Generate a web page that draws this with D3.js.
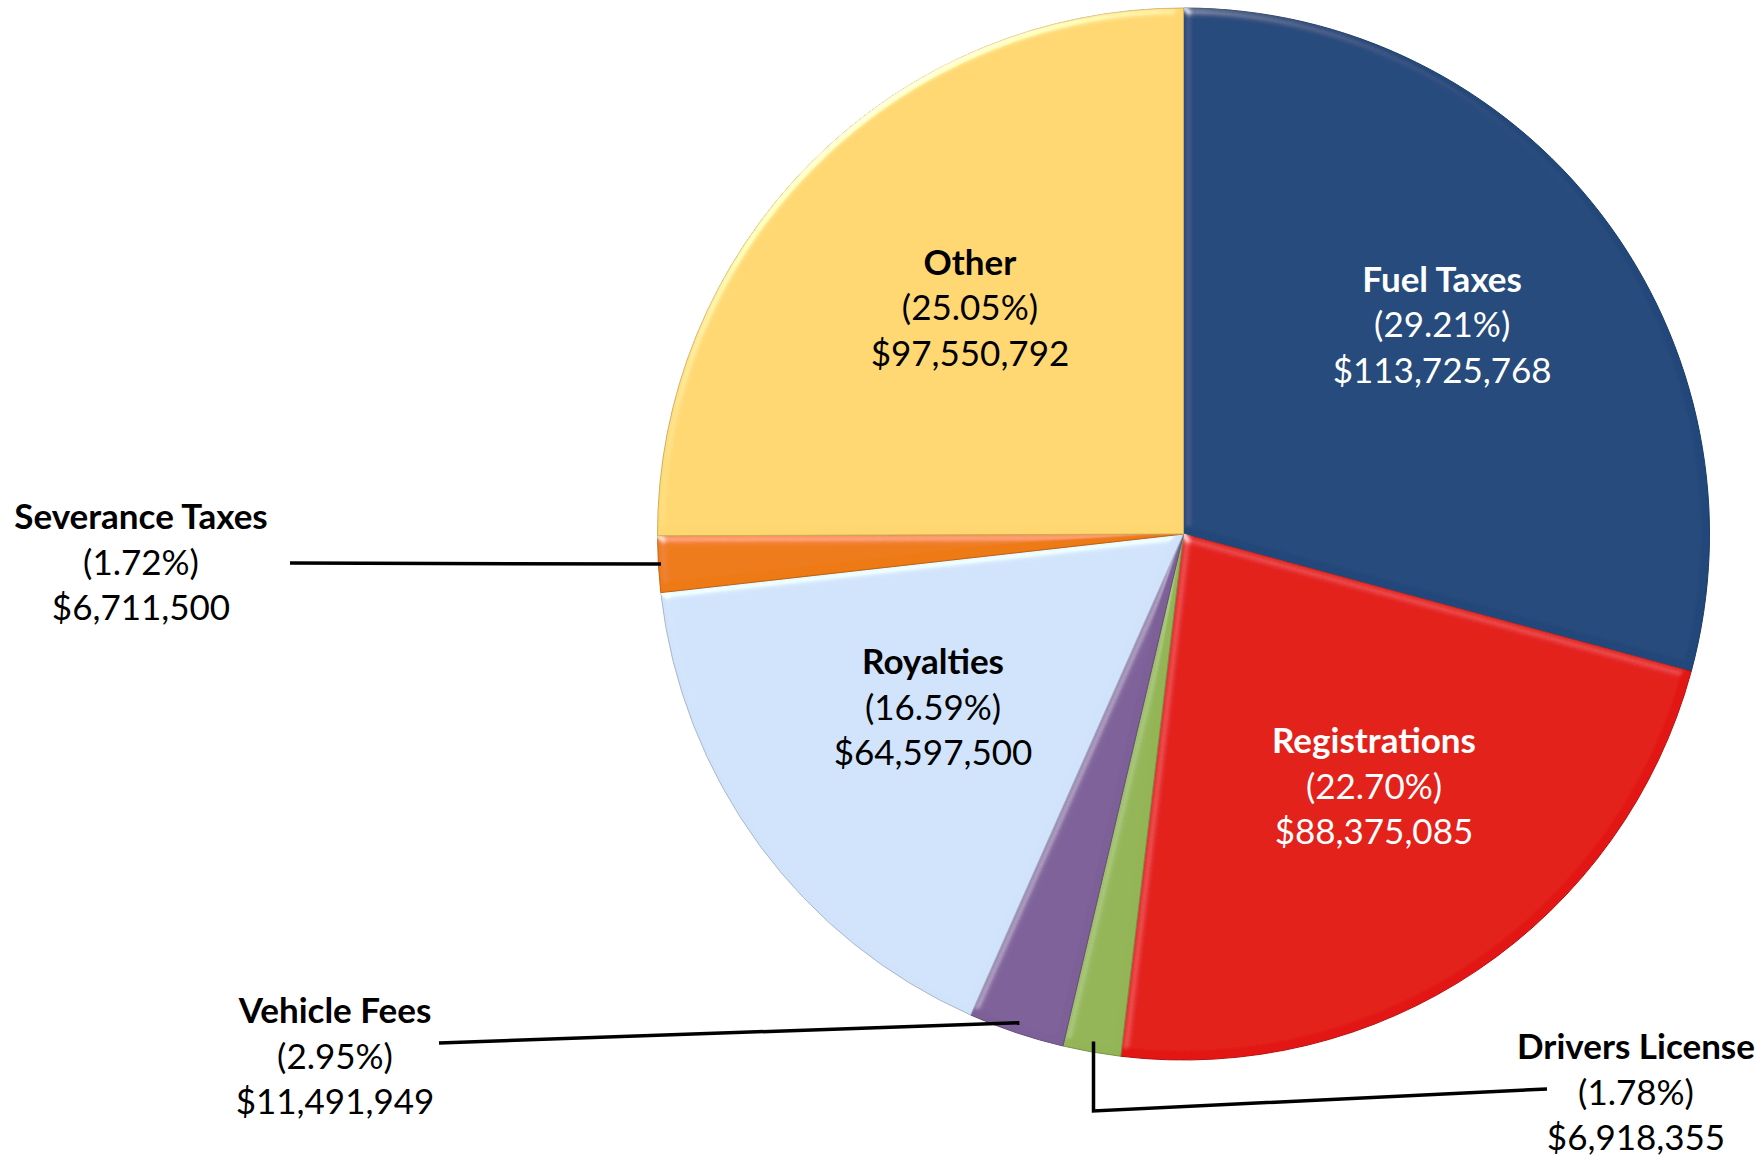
<!DOCTYPE html>
<html lang="en">
<head>
    <meta charset="UTF-8" />
    <title>Revenue Sources</title>
    <script src="https://cdnjs.cloudflare.com/ajax/libs/d3/7.8.5/d3.min.js"></script>
    <style>
        body {
            margin: 0;
            padding: 0;
            background: #ffffff;
        }

        svg text {
            font-family: Lato, 'Open Sans', sans-serif;
            font-size: 35px;
            text-anchor: middle;
        }

        .name {
            font-weight: bold;
        }

        .leader {
            fill: none;
            stroke: #000;
            stroke-width: 3.5;
        }
    </style>
</head>
<body>
    <svg id="chart" width="1764" height="1158"></svg>

    <script>
        // slices, clockwise from 12 o'clock
        const categories = ["Fuel Taxes", "Registrations", "Drivers License", "Vehicle Fees", "Royalties", "Severance Taxes", "Other"];
        const amounts = [113725768, 88375085, 6918355, 11491949, 64597500, 6711500, 97550792];
        const colors = ["#21477A", "#E31613", "#93B556", "#7D6098", "#D0E3FA", "#EE7A13", "#FED771"];
        const textColors = ["#fff", "#fff", "#000", "#000", "#000", "#000", "#000"];

        const width = 1764, height = 1158;
        const cx = 1183.5, cy = 534, R = 526;
        const lineGap = 45.5;

        // small nudges of the inside labels away from the plain centroid
        const nudge = {
            "Fuel Taxes": [8, -17],
            "Other": [10, -3],
            "Registrations": [14, -9],
            "Royalties": [4, -13]
        };

        // labels that sit outside the pie: text position + leader line
        const outside = {
            "Severance Taxes": { x: 141, y: 517, r: 0.995, route: end => [[290, 563], end] },
            "Vehicle Fees": { x: 335, y: 1011, r: 0.98, route: end => [[439, 1043], end] },
            "Drivers License": { x: 1636, y: 1047, r: 0.98, route: end => [[1547, 1089], [end[0], 1111], end] }
        };

        const total = d3.sum(amounts);
        const data = categories.map((c, i) => ({
            name: c, value: amounts[i], color: colors[i], textColor: textColors[i],
            pct: (amounts[i] / total * 100).toFixed(2) + "%"
        }));

        const svg = d3.select("#chart");
        const defs = svg.append("defs");

        // soft bevel like the office "3-D" pie
        const bevel = defs.append("filter").attr("id", "bevel")
            .attr("x", "-5%").attr("y", "-5%").attr("width", "110%").attr("height", "110%");
        bevel.append("feGaussianBlur").attr("in", "SourceAlpha").attr("stdDeviation", 4).attr("result", "blur");
        bevel.append("feSpecularLighting")
            .attr("in", "blur").attr("surfaceScale", 4).attr("specularConstant", 0.7)
            .attr("specularExponent", 30).attr("lighting-color", "#ffffff").attr("result", "spec")
            .append("feDistantLight").attr("azimuth", 235).attr("elevation", 30);
        bevel.append("feComposite").attr("in", "spec").attr("in2", "SourceAlpha")
            .attr("operator", "in").attr("result", "specOut");
        bevel.append("feComposite").attr("in", "SourceGraphic").attr("in2", "specOut")
            .attr("operator", "arithmetic").attr("k1", 0).attr("k2", 1).attr("k3", 0.8).attr("k4", 0);

        const pie = d3.pie().sort(null).value(d => d.value);
        const arcs = pie(data);

        const arc = d3.arc().innerRadius(0).outerRadius(R);
        const labelArc = d3.arc().innerRadius(R * 0.6).outerRadius(R * 0.6);

        const g = svg.append("g").attr("transform", `translate(${cx},${cy})`);

        g.selectAll("path.slice")
            .data(arcs)
            .join("path")
            .attr("class", "slice")
            .attr("d", arc)
            .attr("fill", d => d.data.color)
            .attr("stroke", d => d3.color(d.data.color).darker(0.6))
            .attr("stroke-width", 1)
            .attr("filter", "url(#bevel)");

        // inside labels
        const inner = arcs.filter(d => !outside[d.data.name]);
        const innerLabels = g.selectAll("g.inlabel")
            .data(inner)
            .join("g")
            .attr("class", "inlabel")
            .attr("transform", d => {
                const [x, y] = labelArc.centroid(d);
                const n = nudge[d.data.name] || [0, 0];
                return `translate(${x + n[0]},${y + n[1]})`;
            })
            .attr("fill", d => d.data.textColor);

        innerLabels.append("text").attr("class", "name").attr("y", -lineGap + 12).text(d => d.data.name);
        innerLabels.append("text").attr("y", 12).text(d => "(" + d.data.pct + ")");
        innerLabels.append("text").attr("y", lineGap + 12).text(d => "$" + d3.format(",")(d.data.value));

        // outside labels with leader lines
        const outer = arcs.filter(d => outside[d.data.name]);
        const line = d3.line();

        outer.forEach(d => {
            const o = outside[d.data.name];
            const edgeArc = d3.arc().innerRadius(R * o.r).outerRadius(R * o.r);
            const c = edgeArc.centroid(d);
            const end = [c[0] + cx, c[1] + cy];
            svg.append("path").attr("class", "leader").attr("d", line(o.route(end)));

            const t = svg.append("g").attr("transform", `translate(${o.x},${o.y})`).attr("fill", "#000");
            t.append("text").attr("class", "name").attr("y", 12).text(d.data.name);
            t.append("text").attr("y", lineGap + 12).text("(" + d.data.pct + ")");
            t.append("text").attr("y", 2 * lineGap + 12).text("$" + d3.format(",")(d.data.value));
        });
    </script>
</body>
</html>
